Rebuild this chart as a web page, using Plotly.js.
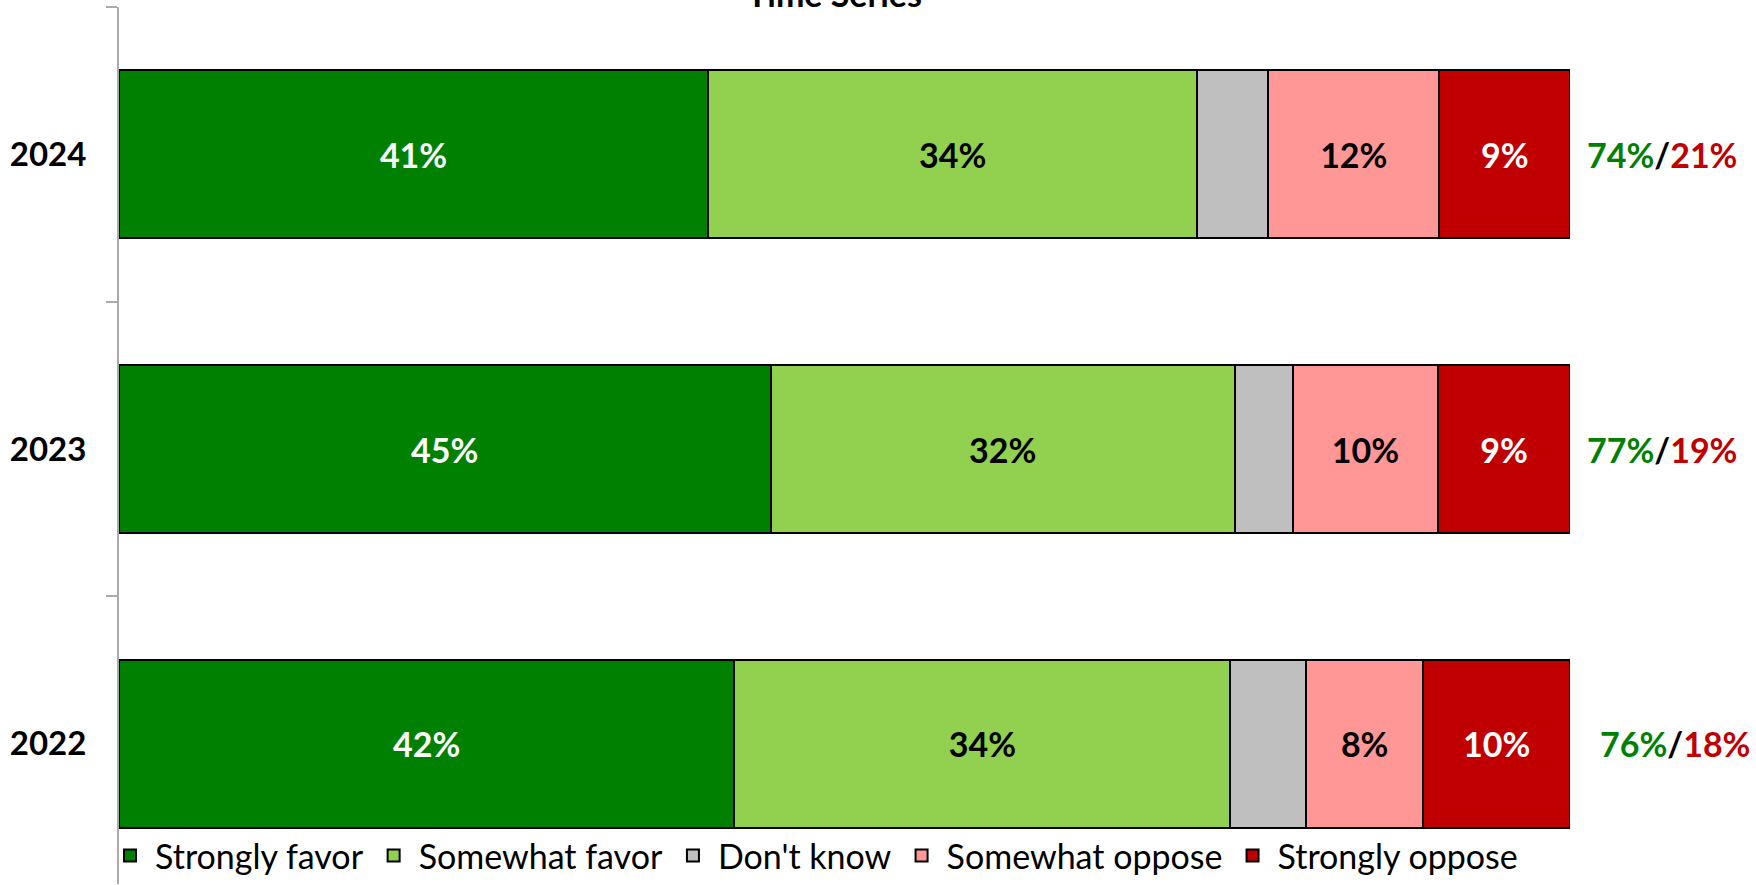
<!DOCTYPE html>
<html>
<head>
<meta charset="utf-8">
<script src="https://cdn.plot.ly/plotly-3.0.1.min.js"></script>
<style>html,body{margin:0;padding:0;background:#fff;}#chart{width:1756px;height:885px;}</style>
</head>
<body>
<div id="chart"></div>
<script>
// ---- data ----
const years = ['2022', '2023', '2024'];
const seriesNames = ['Strongly favor', 'Somewhat favor', "Don't know", 'Somewhat oppose', 'Strongly oppose'];
const stronglyFavor  = [42.4, 44.9, 40.6];
const somewhatFavor  = [34.2, 32.0, 33.7];
const dontKnow       = [5.2, 4.0, 4.9];
const somewhatOppose = [8.1, 10.0, 11.8];
const stronglyOppose = [10.1, 9.1, 9.0];
const netFavor  = [76, 77, 74];
const netOppose = [18, 19, 21];
const chartTitle = 'Time Series';

// ---- styles ----
const FONT = 'Lato, "Open Sans", sans-serif';
const colors = ['#008000', '#92D050', '#BFBFBF', '#FF9797', '#C00000'];
const textColors = ['#FFFFFF', '#000000', '#000000', '#000000', '#FFFFFF'];
const showLabel = [true, true, false, true, true];
const seriesValues = [stronglyFavor, somewhatFavor, dontKnow, somewhatOppose, stronglyOppose];

const traces = seriesNames.map((name, i) => ({
  type: 'bar',
  orientation: 'h',
  name: name,
  y: years,
  x: seriesValues[i],
  marker: {color: colors[i], line: {color: '#000000', width: 2}},
  texttemplate: showLabel[i] ? '%{x:.0f}%' : '',
  textposition: 'inside',
  insidetextanchor: 'middle',
  textangle: 0,
  constraintext: 'none',
  textfont: {family: FONT, size: 34, color: textColors[i], weight: 'bold'},
  hoverinfo: 'skip'
}));

const annotations = years.map((yr, i) => ({
  xref: 'paper', yref: 'y',
  x: i === 0 ? 1.0724 : 1.0634,
  y: i,
  xanchor: 'center', yanchor: 'middle',
  showarrow: false,
  text: '<span style="color:#008000">' + netFavor[i] + '%</span>/<span style="color:#C00000">' + netOppose[i] + '%</span>',
  font: {family: FONT, size: 34, color: '#000000', weight: 'bold'}
}));
annotations.push({
  xref: 'paper', yref: 'paper',
  x: 0.493, y: 1,
  xanchor: 'center', yanchor: 'bottom',
  yshift: -9,
  showarrow: false,
  text: chartTitle,
  font: {family: FONT, size: 34, color: '#000000', weight: 'bold'}
});

const layout = {
  width: 1756,
  height: 885,
  margin: {l: 119, r: 186, t: 7, b: 0},
  paper_bgcolor: '#FFFFFF',
  plot_bgcolor: '#FFFFFF',
  barmode: 'stack',
  bargap: 0.43,
  showlegend: true,
  legend: {
    orientation: 'h',
    x: 0.479, xanchor: 'center',
    y: 0.032, yanchor: 'middle',
    traceorder: 'normal',
    itemwidth: 40,
    bgcolor: 'rgba(0,0,0,0)',
    borderwidth: 0,
    font: {family: FONT, size: 34, color: '#000000'}
  },
  xaxis: {
    range: [0, 100],
    fixedrange: true,
    showgrid: false, zeroline: false, showline: false,
    showticklabels: false, ticks: ''
  },
  yaxis: {
    type: 'category',
    categoryorder: 'array',
    categoryarray: years,
    range: [-0.476, 2.5],
    tickson: 'boundaries',
    showgrid: false, zeroline: false,
    showline: true, linecolor: '#ABABAB', linewidth: 2,
    ticks: 'outside', ticklen: 11, tickwidth: 2, tickcolor: '#ABABAB',
    ticklabelstandoff: 24,
    tickfont: {family: FONT, size: 33, color: '#000000', weight: 'bold'}
  },
  annotations: annotations
};

Plotly.newPlot('chart', traces, layout, {displayModeBar: false, staticPlot: true});
</script>
</body>
</html>
